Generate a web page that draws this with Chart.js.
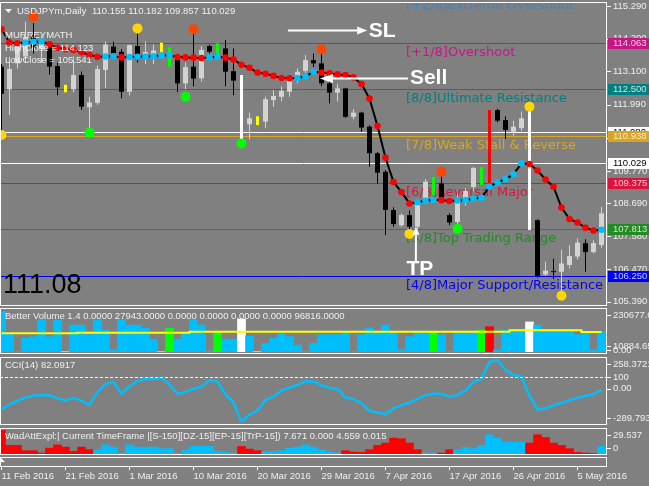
<!DOCTYPE html>
<html>
<head>
<meta charset="utf-8">
<title>USDJPYm, Daily</title>
<script src="https://cdn.jsdelivr.net/npm/chart.js@4.4.1/dist/chart.umd.min.js"></script>
<style>
  html, body { margin: 0; padding: 0; background: #808080; }
  #board { position: relative; width: 649px; height: 486px; overflow: hidden; background: #808080; }
  #board canvas { position: absolute; left: 0; }
</style>
</head>
<body>
<div id="board">
  <canvas id="priceChart" width="649" height="307" style="top:0"></canvas>
  <canvas id="volumeChart" width="649" height="50" style="top:306px"></canvas>
  <canvas id="cciChart" width="649" height="70" style="top:356px"></canvas>
  <canvas id="wadChart" width="649" height="30" style="top:426px"></canvas>
  <canvas id="timeChart" width="649" height="30" style="top:456px"></canvas>
</div>
<script>
// USDJPYm daily bars (broker with Sunday bars), 11 Feb 2016 -> 9 May 2016
const opens = [
  113.26, 112.50, 113.37, 113.60, 114.30, 113.85, 113.92, 113.28, 112.60, 112.50,
  112.98, 111.90, 112.05, 113.15, 113.93, 113.76, 112.42, 113.95, 113.55, 113.55,
  113.76, 113.87, 113.50, 112.70, 113.26, 112.87, 113.95, 113.50, 113.87, 113.11,
  112.80, 111.33, 111.35, 111.42, 112.14, 112.25, 112.42, 112.81, 113.12, 113.48,
  113.37, 112.70, 112.39, 112.53, 111.58, 111.72, 111.25, 110.36, 109.74, 108.46,
  107.95, 108.29, 107.90, 108.79, 109.00, 109.35, 108.29, 108.06, 108.80, 109.23,
  109.80, 109.50, 111.81, 111.47, 111.08, 111.20, 111.60, 108.12, 106.30, 106.40,
  106.39, 106.62, 106.90, 107.35, 107.05, 107.29
];
const highs = [
  113.35, 113.59, 114.00, 114.77, 114.72, 114.30, 114.10, 113.40, 112.65, 113.60,
  113.10, 112.25, 113.30, 114.10, 114.10, 113.85, 114.00, 114.36, 114.10, 114.00,
  114.06, 113.90, 113.55, 113.40, 114.37, 113.95, 114.00, 114.04, 114.15, 113.87,
  112.98, 111.72, 111.60, 112.25, 112.48, 112.60, 112.98, 113.20, 113.65, 113.70,
  113.80, 112.80, 112.68, 112.55, 111.83, 111.75, 111.30, 110.40, 109.80, 108.55,
  108.35, 108.44, 108.75, 109.50, 109.57, 109.60, 108.35, 109.00, 109.20, 109.90,
  109.90, 111.81, 111.85, 111.60, 111.45, 111.75, 111.91, 108.15, 106.73, 106.83,
  107.13, 107.28, 107.51, 107.48, 107.45, 108.57
];
const lows = [
  111.00, 111.64, 113.20, 113.40, 113.70, 113.40, 113.00, 112.30, 112.40, 112.40,
  111.82, 111.20, 111.98, 112.55, 113.60, 112.20, 112.30, 113.40, 113.35, 113.35,
  113.74, 113.26, 112.40, 112.50, 112.60, 112.75, 113.70, 113.48, 112.60, 112.30,
  110.75, 110.83, 111.30, 111.20, 111.92, 112.10, 112.25, 112.70, 113.05, 113.25,
  112.60, 112.03, 112.09, 111.55, 111.50, 111.08, 109.91, 109.35, 107.62, 107.90,
  107.90, 107.75, 107.80, 108.70, 108.96, 108.70, 107.95, 107.90, 108.60, 109.10,
  109.30, 109.20, 111.40, 110.84, 110.95, 111.10, 107.79, 106.20, 106.25, 106.15,
  105.70, 106.50, 106.80, 106.39, 107.00, 107.20
];
const closes = [
  112.35, 113.18, 113.93, 114.25, 113.90, 114.10, 113.26, 112.57, 112.45, 112.98,
  111.92, 112.06, 113.18, 114.00, 113.70, 112.42, 113.98, 113.50, 113.75, 113.80,
  114.04, 113.30, 112.70, 113.24, 112.86, 113.82, 113.76, 114.04, 113.09, 112.79,
  111.00, 111.53, 111.55, 112.17, 112.28, 112.45, 112.81, 113.09, 113.48, 113.37,
  112.70, 112.39, 112.53, 111.58, 111.72, 111.22, 110.36, 109.71, 108.46, 107.99,
  108.29, 107.90, 108.63, 109.41, 109.40, 108.79, 108.04, 108.79, 109.10, 109.87,
  109.50, 111.80, 111.45, 111.14, 111.25, 111.53, 108.10, 106.25, 106.43, 106.38,
  106.67, 106.92, 107.37, 107.05, 107.35, 108.35
];
// Better Volume class of each bar: '' normal, Y low, G churn, R high churn, W climax
const barType = [
  '', '', '', '', '', '', '', '', 'Y', '',
  '', '', '', '', '', '', '', '', '', '',
  'Y', 'G', '', '', '', '', '', 'G', '', '',
  'W', '', 'Y', '', '', '', '', '', '', '',
  '', '', '', '', '', '', '', '', '', '',
  '', '', '', '', 'G', '', '', '', '', '',
  'G', 'R', '', '', '', '', 'W', '', '', '',
  '', '', '', '', '', ''
];
// trend line with coloured dots
const maValues = [
  114.51, 114.07, 114.04, 114.07, 114.09, 114.10, 114.01, 113.89, 113.84, 113.82,
  113.74, 113.65, 113.59, 113.60, 113.61, 113.57, 113.58, 113.59, 113.60, 113.61,
  113.63, 113.64, 113.58, 113.57, 113.56, 113.55, 113.57, 113.59, 113.56, 113.50,
  113.32, 113.22, 113.06, 113.02, 112.95, 112.88, 112.87, 112.88, 112.93, 113.09,
  113.06, 113.04, 113.00, 112.98, 112.90, 112.68, 112.19, 111.27, 110.21, 109.40,
  109.06, 108.68, 108.72, 108.77, 108.80, 108.79, 108.76, 108.78, 108.79, 108.84,
  108.87, 109.24, 109.39, 109.49, 109.66, 110.02, 110.00, 109.78, 109.48, 109.24,
  108.54, 108.16, 108.04, 107.87, 107.77, 107.80
];
// fractal markers
const orangeBars = [4, 24, 40, 55];
const orangePrices = [114.92, 114.51, 113.84, 109.74];
const yellowBars = [0, 17, 51, 66, 70];
const yellowPrices = [110.97, 114.54, 107.66, 111.92, 105.59];
const greenBars = [11, 23, 30, 57];
const greenPrices = [111.05, 112.25, 110.69, 107.83];

const priceTicks = [115.29, 114.2, 113.1, 111.99, 110.88, 109.77, 108.69, 107.58, 106.47, 105.39];
const murreyLevels = [115.625, 114.063, 112.5, 110.938, 109.375, 107.813, 106.25];
const murreyNames = ['[+2/8]Extreme Overshoot', '[+1/8]Overshoot', '[8/8]Ultimate Resistance',
  '[7/8]Weak Stall & Reverse', '[6/8]Reversal Major', '[5/8]Top Trading Range', '[4/8]Major Support/Resistance'];
const markLevel = 111.08;
const lastClose = 110.029;

const volumes = [
  221000, 100000, 2000, 75000, 84000, 176000, 84000, 174000, 3000, 148000,
  148000, 95000, 176000, 120000, 11000, 176000, 148000, 148000, 130000, 70000,
  3000, 130000, 70000, 102000, 178000, 148000, 5000, 106000, 70000, 70000,
  181000, 88000, 3000, 47000, 75000, 102000, 84000, 38000, 2000, 47000,
  95000, 95000, 95000, 106000, 2000, 95000, 133000, 106000, 148000, 106000,
  11000, 84000, 106000, 106000, 108000, 95000, 2000, 106000, 106000, 106000,
  120000, 139000, 11000, 120000, 112000, 112000, 165000, 148000, 120000, 120000,
  120000, 120000, 95000, 112000, 11000, 112000
];
const volumeAvg = [
  102500, 102500, 102500, 102500, 102500, 102500, 102500, 102500, 102500, 102500,
  106200, 106200, 106200, 106200, 106200, 106200, 106200, 106200, 106200, 106200,
  106200, 106200, 106200, 106200, 111700, 111700, 111700, 111700, 111700, 111700,
  111700, 111700, 111700, 111700, 111700, 111700, 111700, 111700, 111700, 111700,
  111700, 111700, 111700, 111700, 111700, 111700, 111700, 111700, 111700, 111700,
  111700, 111700, 111700, 111700, 111700, 111700, 111700, 111700, 111700, 111700,
  111700, 111700, 111700, 111700, 119000, 119000, 119000, 119000, 119000, 119000,
  119000, 119000, 119000, 110000, 110000, 110000
];
const cciValues = [
  -180, -138, -105, -78, -61, -55, -60, -82, -104, -80,
  -105, -142, -28, 40, 60, -45, 20, 67, 84, 84,
  96, 36, -45, -28, -3, 18, 76, 60, -50, -120,
  -289, -225, -190, -98, -70, -15, 8, 32, 64, 63,
  30, 6, -3, -75, -92, -125, -195, -206, -223, -171,
  -143, -121, -88, -58, -42, -45, -72, -55, -15, 60,
  88, 232, 250, 163, 119, 105, -60, -180, -173, -144,
  -125, -100, -80, -63, -48, -10
];
const wadValues = [
  29.5, 10.7, 10.7, 4.1, 4.1, 1.2, 7.2, 11.2, 8.5, 3.2,
  8.5, 5.3, 5.3, 11.2, 8.5, 1.0, 11.2, 8.5, 8.5, 8.5,
  6.5, 6.5, 0.5, 4.9, 9.4, 9.4, 9.4, 3.2, 2.0, 1.2,
  9.4, 6.1, 4.1, 2.5, 3.2, 4.1, 7.3, 8.5, 11.2, 8.5,
  5.3, 2.5, 1.2, 4.1, 2.5, 2.0, 5.3, 10.6, 13.5, 19.6,
  18.8, 13.5, 5.3, 1.2, 1.2, 1.2, 5.3, 5.3, 8.1, 6.5,
  10.6, 23.7, 19.6, 14.7, 14.7, 14.7, 13.5, 23.7, 20.4, 13.5,
  10.6, 6.5, 2.0, 1.2, 0.5, 9.4
];
const wadSide = [
  'S', 'S', 'S', 'S', 'S', 'S', 'S', 'S', 'S', 'S',
  'S', 'S', 'B', 'B', 'B', 'B', 'B', 'B', 'B', 'B',
  'B', 'B', 'B', 'B', 'B', 'B', 'B', 'B', 'B', 'B',
  'S', 'S', 'S', 'B', 'B', 'B', 'B', 'B', 'B', 'B',
  'B', 'B', 'B', 'S', 'S', 'S', 'S', 'S', 'S', 'S',
  'S', 'S', 'S', 'B', 'B', 'S', 'S', 'B', 'B', 'B',
  'B', 'B', 'B', 'B', 'B', 'B', 'S', 'S', 'S', 'S',
  'S', 'S', 'S', 'S', 'S', 'B'
];
const dateLabels = ['11 Feb 2016', '21 Feb 2016', '1 Mar 2016', '10 Mar 2016', '20 Mar 2016',
  '29 Mar 2016', '7 Apr 2016', '17 Apr 2016', '26 Apr 2016', '5 May 2016'];
const LABEL_STEP = 8; // one date label every 8 bars

// --- look ---
const TEXT = '#f0f0f0';
const SMALL = "9.5px 'Liberation Sans', Arial, sans-serif";
const SKY = '#00BFFF';
const C_UP = '#d3d3d3';
const C_DOWN = '#000000';
const FLAG = { Y: '#FFFF00', G: '#00FF00', R: '#FF0000', W: '#FFFFFF' };
const VOL_COLORS = { '': SKY, Y: '#FFD700', G: '#00FF00', R: '#FF0000', W: '#FFFFFF' };
const MURREY_COLORS = ['#4682B4', '#C71585', '#008080', '#DAA520', '#DC143C', '#228B22', '#0000FF'];
const X_MIN = -0.1875, X_MAX = 75.6875;

Chart.defaults.font.family = "'Liberation Sans', Arial, sans-serif";
Chart.defaults.font.size = 9.5;
Chart.defaults.color = TEXT;

const bars = closes.map((_, i) => i);
const isUp = i => closes[i] >= opens[i];
const plainBars = bars.filter(i => barType[i] === '');
const flagBars = bars.filter(i => barType[i] !== '');

const hiddenX = () => ({
  type: 'linear', min: X_MIN, max: X_MAX, offset: false, display: false,
  ticks: { stepSize: 8, includeBounds: false }
});
const baseOptions = (top, bottom) => ({
  responsive: false, animation: false, events: [],
  layout: { autoPadding: false, padding: { left: 0, right: 42, top: top, bottom: bottom } },
  datasets: { bar: { grouped: false, categoryPercentage: 1 } }
});

// white MT4 style frame around each window
const framePlugin = {
  id: 'mtFrame',
  afterDraw(chart, args, opts) {
    const { ctx, chartArea: a } = chart;
    const top = a.top + (opts.dt || 0), bottom = a.bottom + (opts.db || 0);
    ctx.save();
    ctx.strokeStyle = '#ffffff';
    ctx.lineWidth = 1;
    ctx.strokeRect(0.5, top + 0.5, 606, bottom - top - 1);
    if (opts.title) {
      ctx.font = SMALL; ctx.fillStyle = TEXT; ctx.textBaseline = 'middle';
      ctx.fillText(opts.title, 5, top + 8);
    }
    ctx.restore();
  }
};

// right hand scale labels (tick mark + text), clamped inside the window
const sideLabels = {
  id: 'sideLabels',
  afterDraw(chart, args, opts) {
    const { ctx, chartArea: a, scales: { y } } = chart;
    ctx.save();
    ctx.font = SMALL; ctx.fillStyle = TEXT; ctx.strokeStyle = '#ffffff'; ctx.textBaseline = 'middle';
    (opts.dashed || []).forEach(v => {
      const py = Math.round(y.getPixelForValue(v)) + 0.5;
      ctx.setLineDash([3, 2]);
      ctx.beginPath(); ctx.moveTo(a.left, py); ctx.lineTo(a.right, py); ctx.stroke();
      ctx.setLineDash([]);
    });
    (opts.items || []).forEach(it => {
      let py = y.getPixelForValue(it.value);
      if (opts.clamp !== false) py = Math.min(Math.max(py, a.top + 5), a.bottom - 4);
      py += (it.dy || 0);
      ctx.beginPath(); ctx.moveTo(a.right, Math.round(py) + 0.5); ctx.lineTo(a.right + 4, Math.round(py) + 0.5); ctx.stroke();
      ctx.fillText(it.text, a.right + 6, py);
    });
    ctx.restore();
  }
};

// Murrey math levels, drawn behind the bars
const murreyPlugin = {
  id: 'murrey',
  beforeDatasetsDraw(chart, args, opts) {
    const { ctx, chartArea: a, scales: { x, y } } = chart;
    ctx.save();
    ctx.beginPath(); ctx.rect(a.left, a.top, a.right - a.left, a.bottom - a.top); ctx.clip();
    ctx.lineWidth = 1;
    [markLevel, lastClose].forEach(v => {
      const py = Math.round(y.getPixelForValue(v)) + 0.5;
      ctx.strokeStyle = '#ffffff';
      ctx.beginPath(); ctx.moveTo(a.left, py); ctx.lineTo(a.right, py); ctx.stroke();
    });
    ctx.font = "13px 'DejaVu Sans', sans-serif";
    ctx.textBaseline = 'alphabetic';
    murreyLevels.forEach((lv, k) => {
      const py = Math.round(y.getPixelForValue(lv)) + 0.5;
      ctx.strokeStyle = MURREY_COLORS[k];
      ctx.beginPath(); ctx.moveTo(a.left, py); ctx.lineTo(a.right, py); ctx.stroke();
      ctx.fillStyle = MURREY_COLORS[k];
      ctx.fillText(murreyNames[k], x.getPixelForValue(opts.labelBar), py + 12);
    });
    ctx.restore();
  }
};

function arrow(ctx, x1, y1, x2, y2, len, half) {
  const ang = Math.atan2(y2 - y1, x2 - x1);
  const bx = x2 - len * Math.cos(ang), by = y2 - len * Math.sin(ang);
  ctx.beginPath(); ctx.moveTo(x1, y1); ctx.lineTo(bx, by); ctx.stroke();
  ctx.beginPath();
  ctx.moveTo(x2, y2);
  ctx.lineTo(bx + half * Math.sin(ang), by - half * Math.cos(ang));
  ctx.lineTo(bx - half * Math.sin(ang), by + half * Math.cos(ang));
  ctx.closePath(); ctx.fill();
}

// axis price boxes, texts and trade arrows on top of the price window
const overlayPlugin = {
  id: 'overlay',
  afterDraw(chart) {
    const { ctx, chartArea: a, scales: { x, y } } = chart;
    ctx.save();
    ctx.font = SMALL; ctx.textBaseline = 'middle';
    const box = (v, bg, fg, label) => {
      const py = y.getPixelForValue(v);
      ctx.fillStyle = bg; ctx.fillRect(a.right + 1, Math.round(py) - 5, 42, 11);
      ctx.fillStyle = fg; ctx.fillText(label, a.right + 6, py + 0.5);
    };
    box(markLevel, '#ffffff', '#000000', markLevel.toFixed(3));
    murreyLevels.forEach((lv, k) => {
      if (k > 0) box(lv, MURREY_COLORS[k], 'rgba(255,255,255,0.78)', lv.toFixed(3));
    });
    box(lastClose, '#ffffff', '#000000', lastClose.toFixed(3));

    // header
    ctx.fillStyle = TEXT;
    ctx.beginPath(); ctx.moveTo(5, 9); ctx.lineTo(12, 9); ctx.lineTo(8.5, 13); ctx.closePath(); ctx.fill();
    ctx.fillText('USDJPYm,Daily', 17, 11);
    ctx.fillText('110.155 110.182 109.857 110.029', 92, 11);
    ctx.fillText('MURREYMATH', 5, 35);
    ctx.fillText('HighClose = 114.123', 5, 48);
    ctx.fillText('LowClose = 105.541', 5, 60.5);

    ctx.fillStyle = '#000000';
    ctx.font = "27px 'Liberation Sans', Arial, sans-serif";
    ctx.textBaseline = 'alphabetic';
    ctx.fillText('111.08', 3, 293);

    // SL / Sell / TP annotations
    ctx.strokeStyle = '#ffffff'; ctx.fillStyle = '#ffffff'; ctx.lineWidth = 2;
    const px = b => x.getPixelForValue(b), py = p => y.getPixelForValue(p);
    arrow(ctx, px(35.8), py(114.47), px(45.7), py(114.47), 10, 4);
    arrow(ctx, px(50.8), py(112.86), px(39.8), py(112.86), 13, 4.5);
    arrow(ctx, px(51.8), py(106.73), px(51.8), py(107.90), 8, 3.5);
    ctx.font = "bold 21px 'Liberation Sans', Arial, sans-serif";
    ctx.textBaseline = 'middle';
    ctx.fillText('SL', px(45.9), py(114.45));
    ctx.fillText('Sell', px(51.05), py(112.88));
    ctx.textAlign = 'center';
    ctx.fillText('TP', px(52.3), py(106.485));
    ctx.restore();
  }
};

// ---------- price window ----------
const dot = (xs, ps) => xs.map((b, k) => ({ x: b, y: ps[k] }));
const priceOpts = baseOptions(2, 1);
priceOpts.plugins = {
  legend: { display: false }, tooltip: { enabled: false },
  mtFrame: { dt: 0, db: 0 }, murrey: { labelBar: 50.56 },
  sideLabels: { clamp: false, items: priceTicks.map(v => ({ value: v, text: v.toFixed(3) })) }
};
priceOpts.scales = {
  x: hiddenX(),
  y: { display: false, min: 105.246, max: 115.424, beginAtZero: false }
};
new Chart(document.getElementById('priceChart'), {
  type: 'bar',
  data: {
    datasets: [
      { data: plainBars.map(i => ({ x: i, y: [lows[i], highs[i]] })),
        backgroundColor: plainBars.map(i => isUp(i) ? C_UP : C_DOWN), barPercentage: 1 / 8, order: 6 },
      { data: plainBars.map(i => ({ x: i, y: [Math.min(opens[i], closes[i]), Math.max(opens[i], closes[i])] })),
        backgroundColor: plainBars.map(i => isUp(i) ? C_UP : C_DOWN), barPercentage: 5 / 8, minBarLength: 1, order: 5 },
      { data: flagBars.map(i => ({ x: i, y: [lows[i], highs[i]] })),
        backgroundColor: flagBars.map(i => FLAG[barType[i]]), barPercentage: 3 / 8, order: 4 },
      { type: 'line', data: maValues.map((v, i) => ({ x: i, y: v })), borderColor: '#000000', borderWidth: 2,
        pointRadius: 3.3, pointBorderWidth: 0,
        pointBackgroundColor: maValues.map((v, i) => (i > 0 && v > maValues[i - 1]) ? SKY : '#FF0000'), order: 2 },
      { type: 'line', showLine: false, data: dot(orangeBars, orangePrices), pointRadius: 5, pointBorderWidth: 0,
        pointBackgroundColor: '#FF4500', order: 1 },
      { type: 'line', showLine: false, data: dot(yellowBars, yellowPrices), pointRadius: 5, pointBorderWidth: 0,
        pointBackgroundColor: '#FFD700', order: 1 },
      { type: 'line', showLine: false, data: dot(greenBars, greenPrices), pointRadius: 5, pointBorderWidth: 0,
        pointBackgroundColor: '#00FF00', order: 1 }
    ]
  },
  options: priceOpts,
  plugins: [murreyPlugin, framePlugin, sideLabels, overlayPlugin]
});

// ---------- Better Volume ----------
const volOpts = baseOptions(4, 4);
volOpts.plugins = {
  legend: { display: false }, tooltip: { enabled: false },
  mtFrame: { dt: -2, db: 2, title: 'Better Volume 1.4 0.0000 27943.0000 0.0000 0.0000 0.0000 0.0000 96816.0000' },
  sideLabels: { items: [
    { value: 230677.6, text: '230677.6' },
    { value: 10884.65, text: '10884.65', dy: -2 },
    { value: 0, text: '0.00', dy: 2 }
  ] }
};
volOpts.scales = { x: hiddenX(), y: { display: false, min: 0, max: 230677.6, beginAtZero: false } };
new Chart(document.getElementById('volumeChart'), {
  type: 'bar',
  data: {
    datasets: [
      { type: 'line', data: volumeAvg.map((v, i) => ({ x: i, y: v })), borderColor: '#FFFF00', borderWidth: 2,
        pointRadius: 0, stepped: 'middle', order: 0 },
      { data: volumes.map((v, i) => ({ x: i, y: v })), backgroundColor: bars.map(i => VOL_COLORS[barType[i]]),
        barPercentage: 1, order: 1 }
    ]
  },
  options: volOpts,
  plugins: [framePlugin, sideLabels]
});

// ---------- CCI(14) ----------
const cciOpts = baseOptions(3, 4);
cciOpts.plugins = {
  legend: { display: false }, tooltip: { enabled: false },
  mtFrame: { dt: -2, db: 3, title: 'CCI(14) 82.0917' },
  sideLabels: { dashed: [100], items: [
    { value: 258.3721, text: '258.3721' },
    { value: 100, text: '100' },
    { value: 0, text: '0.00' },
    { value: -289.7934, text: '-289.7934' }
  ] }
};
cciOpts.scales = { x: hiddenX(), y: { display: false, min: -289.7934, max: 258.3721 } };
new Chart(document.getElementById('cciChart'), {
  type: 'line',
  data: { datasets: [
    { data: cciValues.map((v, i) => ({ x: i, y: v })), borderColor: SKY, borderWidth: 2.5, pointRadius: 0, tension: 0 }
  ] },
  options: cciOpts,
  plugins: [sideLabels, framePlugin]
});

// ---------- WadAttExpl ----------
const wadOpts = baseOptions(4, 2);
wadOpts.plugins = {
  legend: { display: false }, tooltip: { enabled: false },
  mtFrame: { dt: -2, db: 1, title: 'WadAttExpl:| Current TimeFrame |[S-150][DZ-15][EP-15][TrP-15]) 7.671 0.000 4.559 0.015' },
  sideLabels: { items: [{ value: 29.537, text: '29.537' }, { value: 0, text: '0', dy: -2 }] }
};
wadOpts.scales = { x: hiddenX(), y: { display: false, min: 0, max: 29.537, beginAtZero: false } };
new Chart(document.getElementById('wadChart'), {
  type: 'bar',
  data: { datasets: [
    { data: wadValues.map((v, i) => ({ x: i, y: v })),
      backgroundColor: wadSide.map(s => s === 'S' ? '#FF0000' : SKY), barPercentage: 1 }
  ] },
  options: wadOpts,
  plugins: [framePlugin, sideLabels]
});

// ---------- time scale ----------
const timeOpts = baseOptions(1, 0);
timeOpts.plugins = { legend: { display: false }, tooltip: { enabled: false }, mtFrame: { dt: 0, db: 0 } };
timeOpts.scales = {
  x: {
    type: 'linear', min: X_MIN, max: X_MAX, offset: false, position: 'bottom',
    afterBuildTicks: s => { s.ticks = dateLabels.map((_, k) => ({ value: k * LABEL_STEP })); },
    afterFit: s => { s.height = 19; },
    ticks: { autoSkip: false, maxRotation: 0, minRotation: 0, align: 'start', padding: 1, color: TEXT,
      font: { size: 9.5 }, callback: (v, k) => dateLabels[k] },
    grid: { drawOnChartArea: false, drawTicks: true, tickLength: 3, color: '#ffffff', offset: false },
    border: { display: false }
  },
  y: { display: false, min: 0, max: 1 }
};
new Chart(document.getElementById('timeChart'), {
  type: 'line',
  data: { datasets: [] },
  options: timeOpts,
  plugins: [framePlugin, {
    id: 'corner',
    afterDraw(chart) {
      const { ctx, chartArea: a } = chart;
      ctx.save(); ctx.fillStyle = '#ffffff';
      ctx.beginPath(); ctx.moveTo(1, a.top + 1); ctx.lineTo(5, a.top + 5); ctx.lineTo(1, a.top + 5); ctx.closePath(); ctx.fill();
      ctx.restore();
    }
  }]
});
</script>
</body>
</html>
